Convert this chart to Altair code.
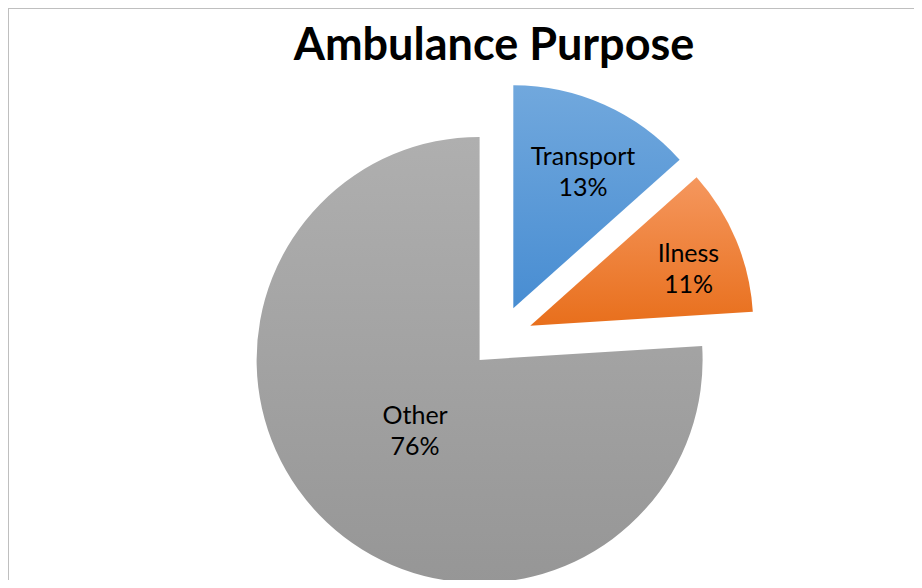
import altair as alt
import pandas as pd

# ---- data ----
categories = ["Transport", "Ilness", "Other"]
values = [13.4, 10.6, 76.0]
title_text = ["Ambulance Purpose"]

df = pd.DataFrame({"category": categories, "value": values})

# ---- layout / style constants ----
W, H = 906, 572
CX, CY = 491.8, 330.4
R = 223
FONT = "Lato"
LINE_H = 31

styles = {
    "Transport": dict(top="#71A8DD", bottom="#488DD2", explode=33, lr=153, shift=3.0),
    "Ilness": dict(top="#F5975E", bottom="#E86F1C", explode=33, lr=168, shift=3.0),
    "Other": dict(top="#AFAFAF", bottom="#969696", explode=29.5, lr=96, shift=-1.0),
}

base = (
    alt.Chart(df)
    .transform_joinaggregate(total="sum(value)")
    .transform_window(cum="sum(value)", frame=[None, 0])
    .transform_calculate(
        frac="datum.value / datum.total",
        t0="2 * PI * (datum.cum - datum.value) / datum.total",
        t1="2 * PI * datum.cum / datum.total",
    )
    .transform_calculate(mid="(datum.t0 + datum.t1) / 2")
)

layers = []
for cat in categories:
    s = styles[cat]
    grad = alt.Gradient(
        gradient="linear",
        stops=[alt.GradientStop(offset=0, color=s["top"]),
               alt.GradientStop(offset=1, color=s["bottom"])],
        x1=0, x2=0, y1=0, y2=1,
    )
    sub = base.transform_filter(alt.datum.category == cat).transform_calculate(
        ax=f"{CX} + {s['explode']} * sin(datum.mid)",
        ay=f"{CY} - {s['explode']} * cos(datum.mid)",
    ).transform_calculate(
        lx=f"datum.ax + {s['lr']} * sin(datum.mid + {s['shift']} * PI / 180)",
        ly=f"datum.ay - {s['lr']} * cos(datum.mid + {s['shift']} * PI / 180)",
        label="datum.category + '\\n' + format(datum.frac, '.0%')",
    )
    arc = sub.mark_arc(radius=R, fill=grad, strokeWidth=0).encode(
        theta=alt.Theta("t0:Q", scale=None),
        theta2="t1:Q",
        x=alt.X("ax:Q", scale=None),
        y=alt.Y("ay:Q", scale=None),
        tooltip=["category:N", alt.Tooltip("frac:Q", format=".0%")],
    )
    txt = sub.mark_text(
        font=FONT, fontSize=25, color="#000000", lineBreak="\n",
        lineHeight=LINE_H, align="center", baseline="middle", dy=-LINE_H / 2,
    ).encode(
        x=alt.X("lx:Q", scale=None),
        y=alt.Y("ly:Q", scale=None),
        text="label:N",
    )
    layers += [arc, txt]

border_top = alt.Chart(df).mark_rule(color="#BFBFBF", strokeWidth=1).encode(
    x=alt.value(0), x2=alt.value(W), y=alt.value(0.5)
)
border_left = alt.Chart(df).mark_rule(color="#BFBFBF", strokeWidth=1).encode(
    x=alt.value(0.5), y=alt.value(0), y2=alt.value(H)
)

title = alt.Chart(pd.DataFrame({"t": title_text})).mark_text(
    font=FONT, fontSize=45, fontWeight="bold", color="#000000",
    align="center", baseline="alphabetic",
).encode(x=alt.value(486), y=alt.value(52), text="t:N")

chart = (
    alt.layer(border_top, border_left, *layers, title)
    .properties(
        width=W, height=H, padding=0,
        autosize=alt.AutoSizeParams(type="none"),
    )
    .configure_view(stroke=None)
)

chart.save("out.html", embed_options={"renderer": "svg", "actions": False})
